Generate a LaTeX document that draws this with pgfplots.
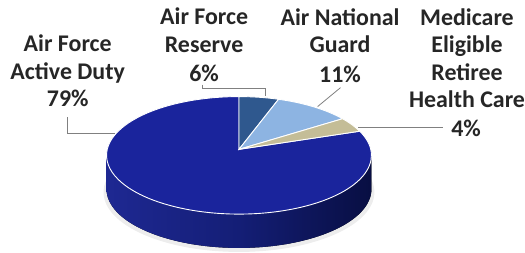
\documentclass[border=0pt]{standalone}
\usepackage{pgfplots}
\pgfplotsset{compat=1.18}
\usepackage{pgfplotstable}
\usepackage{fontspec}
\setmainfont{Carlito}

\pgfplotstableread{
label value
Reserve 6
ANG 11
Medicare 4
Active 79
}\piedata

\definecolor{cActive}{RGB}{26,36,156}
\definecolor{cReserve}{RGB}{47,88,142}
\definecolor{cANG}{RGB}{141,180,226}
\definecolor{cMed}{RGB}{196,189,151}
\definecolor{sideL}{RGB}{30,40,146}
\definecolor{sideM}{RGB}{20,30,118}
\definecolor{sideR}{RGB}{8,14,66}
\definecolor{txt}{RGB}{38,38,38}
\definecolor{lead}{RGB}{128,128,128}

\begin{document}
\begin{tikzpicture}
\pgfplotstablegetelem{0}{value}\of\piedata \pgfmathsetmacro\vA{\pgfplotsretval}
\pgfplotstablegetelem{1}{value}\of\piedata \pgfmathsetmacro\vB{\pgfplotsretval}
\pgfplotstablegetelem{2}{value}\of\piedata \pgfmathsetmacro\vC{\pgfplotsretval}
\pgfplotstablegetelem{3}{value}\of\piedata \pgfmathsetmacro\vD{\pgfplotsretval}
\def\cx{240}\def\cy{98}\def\rx{133}\def\ry{59}\def\dep{34}
\def\vx{240}\def\vy{104}\def\kk{0.25}
% true angles of slice boundaries
\pgfmathsetmacro\aA{90-3.6*\vA}
\pgfmathsetmacro\aB{\aA-3.6*\vB}
\pgfmathsetmacro\aC{\aB-3.6*\vC}
% perspective: map true angle to ellipse parameter
\newcommand\persp[2]{%
  \pgfmathsetmacro\uu{cos(#1)/(1+\kk*sin(#1))}%
  \pgfmathsetmacro\vv{sqrt(max(0,1-\uu*\uu))*(sin(#1)>=0?1:-1)}%
  \pgfmathsetmacro#2{atan2(\vv,\uu)}}
\pgfmathsetmacro\tZ{90}
\persp{\aA}{\tA}
\persp{\aB}{\tB}
\persp{\aC}{\tC}
\pgfmathsetmacro\tD{\tZ-360}
\pgfmathsetmacro\xZ{\cx+\rx*cos(\tZ)}\pgfmathsetmacro\yZ{\cy+\ry*sin(\tZ)}
\pgfmathsetmacro\xA{\cx+\rx*cos(\tA)}\pgfmathsetmacro\yA{\cy+\ry*sin(\tA)}
\pgfmathsetmacro\xB{\cx+\rx*cos(\tB)}\pgfmathsetmacro\yB{\cy+\ry*sin(\tB)}
\pgfmathsetmacro\xC{\cx+\rx*cos(\tC)}\pgfmathsetmacro\yC{\cy+\ry*sin(\tC)}
\pgfmathsetmacro\yBot{\cy-\dep}
\begin{axis}[width=525pt,height=254pt,scale only axis,
  xmin=0,xmax=525,ymin=0,ymax=254,hide axis,clip=false]
\path (axis cs:0,0) rectangle (axis cs:525,254);
% soft shadow
\fill[black,opacity=0.07] (axis cs:\cx,\yBot-3) ellipse [x radius=136pt, y radius=60pt];
% side of the pie
\fill[left color=sideL, right color=sideR, middle color=sideM]
  (axis cs:\cx-\rx,\cy) arc[start angle=180,end angle=360,x radius=\rx pt,y radius=\ry pt]
  -- (axis cs:\cx+\rx,\yBot)
  arc[start angle=0,end angle=-180,x radius=\rx pt,y radius=\ry pt] -- cycle;
% top faces
\filldraw[fill=cActive,draw=white,line width=0.9pt]
  (axis cs:\vx,\vy) -- (axis cs:\xC,\yC)
  arc[start angle=\tC,end angle=\tD,x radius=\rx pt,y radius=\ry pt] -- cycle;
\filldraw[fill=cReserve,draw=white,line width=0.9pt]
  (axis cs:\vx,\vy) -- (axis cs:\xZ,\yZ)
  arc[start angle=\tZ,end angle=\tA,x radius=\rx pt,y radius=\ry pt] -- cycle;
\filldraw[fill=cANG,draw=white,line width=0.9pt]
  (axis cs:\vx,\vy) -- (axis cs:\xA,\yA)
  arc[start angle=\tA,end angle=\tB,x radius=\rx pt,y radius=\ry pt] -- cycle;
\filldraw[fill=cMed,draw=white,line width=0.9pt]
  (axis cs:\vx,\vy) -- (axis cs:\xB,\yB)
  arc[start angle=\tB,end angle=\tC,x radius=\rx pt,y radius=\ry pt] -- cycle;
% leader lines
\draw[lead,line width=0.8pt] (axis cs:68,136) -- (axis cs:68,120) -- (axis cs:115,120);
\draw[lead,line width=0.8pt] (axis cs:203,169) -- (axis cs:203,165) -- (axis cs:267,165) -- (axis cs:267,158);
\draw[lead,line width=0.8pt] (axis cs:342,166) -- (axis cs:319,147);
\draw[lead,line width=0.8pt] (axis cs:360,126) -- (axis cs:445,126);
% labels
\tikzset{lab/.style={anchor=base,inner sep=0pt,text=txt,font=\bfseries\fontsize{24}{28}\selectfont}}
\node[lab] at (axis cs:68,202) {Air Force};
\node[lab] at (axis cs:68,174) {Active Duty};
\node[lab] at (axis cs:68,147) {79\%};
\node[lab] at (axis cs:205,229) {Air Force};
\node[lab] at (axis cs:205,201) {Reserve};
\node[lab] at (axis cs:205,172) {6\%};
\node[lab] at (axis cs:341.5,228) {Air National};
\node[lab] at (axis cs:341.5,201) {Guard};
\node[lab] at (axis cs:341.5,171) {11\%};
\node[lab] at (axis cs:469,228.5) {Medicare};
\node[lab] at (axis cs:469,201) {Eligible};
\node[lab] at (axis cs:469,173.5) {Retiree};
\node[lab] at (axis cs:469,146) {Health Care};
\node[lab] at (axis cs:468,117) {4\%};
\end{axis}
\end{tikzpicture}
\end{document}
